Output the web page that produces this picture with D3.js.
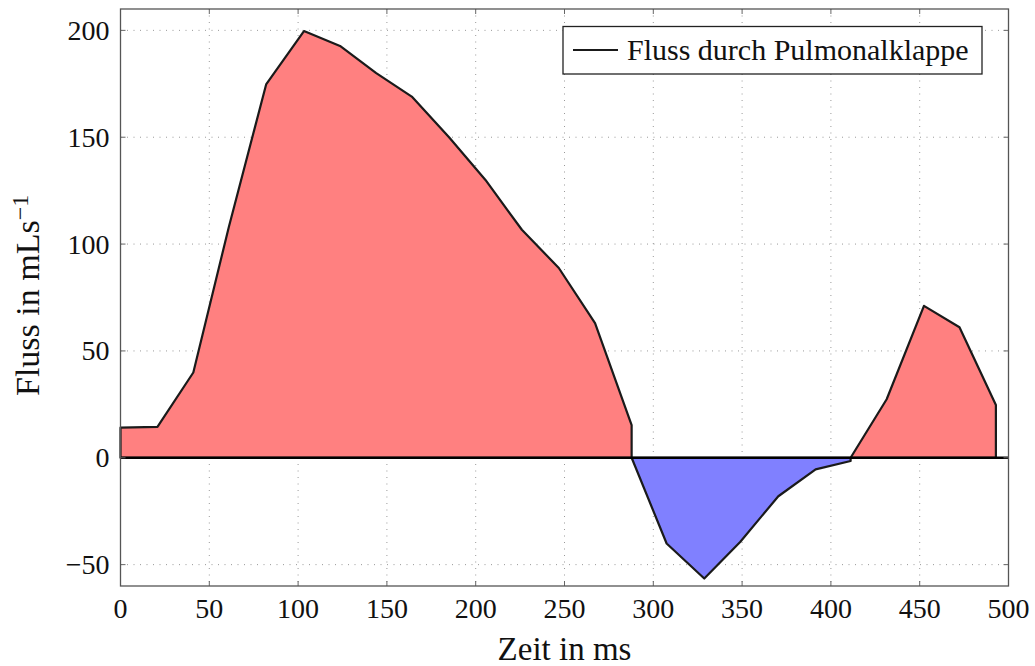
<!DOCTYPE html>
<html>
<head>
<meta charset="utf-8">
<script src="https://cdn.jsdelivr.net/npm/d3@7"></script>
<style>
  body { margin: 0; background: #fff; }
  text { font-family: "Liberation Serif", "Times New Roman", serif; fill: #111; }
</style>
</head>
<body>
<div id="root"></div>
<script>
// data
const timeMs = [0, 20.8, 41, 61, 82, 103.3, 123.6, 144, 164, 185, 205.5, 226, 246.8, 267.2, 287.8,
                307.5, 328.7, 348.9, 370.4, 391.4, 411.1, 431.4, 452.4, 472.4, 492.9];
const flow = [14.1, 14.5, 39.9, 108, 174.7, 199.7, 192.7, 180, 169, 150, 130, 106.7, 88.8, 63, 15.3,
              -40.1, -56.5, -39.4, -18, -5.4, -1.5, 27.4, 71.1, 61.1, 24.7];
const xTicks = [0, 50, 100, 150, 200, 250, 300, 350, 400, 450, 500];
const yTicks = [-50, 0, 50, 100, 150, 200];
const xLabel = "Zeit in ms";
const yLabel = "Fluss in mLs";
const legendLabel = "Fluss durch Pulmonalklappe";

const W = 1035, H = 666;
const margin = {left: 120.5, right: 1035 - 1008.5, top: 9, bottom: 666 - 586};
const innerW = W - margin.left - margin.right;
const innerH = H - margin.top - margin.bottom;

const svg = d3.select('#root').append('svg')
  .attr('width', W).attr('height', H);

const g = svg.append('g')
  .attr('transform', `translate(${margin.left},${margin.top})`);

const x = d3.scaleLinear().domain([0, 500]).range([0, innerW]);
const y = d3.scaleLinear().domain([-60, 210]).range([innerH, 0]);

// grid
g.append('g').selectAll('line').data(xTicks).join('line')
  .attr('x1', d => x(d)).attr('x2', d => x(d))
  .attr('y1', 0).attr('y2', innerH)
  .attr('stroke', '#999').attr('stroke-width', 1).attr('stroke-dasharray', '1,5.5');
g.append('g').selectAll('line').data(yTicks).join('line')
  .attr('x1', 0).attr('x2', innerW)
  .attr('y1', d => y(d)).attr('y2', d => y(d))
  .attr('stroke', '#999').attr('stroke-width', 1).attr('stroke-dasharray', '1,5.5');

// split the curve into runs of same sign, each run starts at the previous point set to 0
const pts = timeMs.map((t, i) => ({t, v: flow[i]}));
const runs = [];
pts.forEach((p, i) => {
  const pos = p.v >= 0;
  const last = runs[runs.length - 1];
  if (!last || last.pos !== pos) {
    const run = {pos, pts: []};
    if (i > 0) run.pts.push({t: pts[i - 1].t, v: 0});
    runs.push(run);
    run.pts.push(p);
  } else {
    last.pts.push(p);
  }
});

const area = d3.area()
  .x(d => x(d.t))
  .y0(y(0))
  .y1(d => y(d.v));

g.append('g').selectAll('path').data(runs).join('path')
  .attr('d', d => area(d.pts))
  .attr('fill', d => d.pos ? '#ff8080' : '#8080ff')
  .attr('stroke', '#1a1a1a')
  .attr('stroke-width', 2.2)
  .attr('stroke-linejoin', 'round');

// zero line
g.append('line')
  .attr('x1', 0).attr('x2', innerW)
  .attr('y1', y(0)).attr('y2', y(0))
  .attr('stroke', '#000').attr('stroke-width', 2.5);

// ticks inside the frame on all four sides
const tl = 5;
const tickG = g.append('g').attr('stroke', '#666').attr('stroke-width', 1);
xTicks.forEach(d => {
  tickG.append('line').attr('x1', x(d)).attr('x2', x(d)).attr('y1', innerH).attr('y2', innerH - tl);
  tickG.append('line').attr('x1', x(d)).attr('x2', x(d)).attr('y1', 0).attr('y2', tl);
});
yTicks.forEach(d => {
  tickG.append('line').attr('x1', 0).attr('x2', tl).attr('y1', y(d)).attr('y2', y(d));
  tickG.append('line').attr('x1', innerW).attr('x2', innerW - tl).attr('y1', y(d)).attr('y2', y(d));
});

// frame
g.append('rect')
  .attr('width', innerW).attr('height', innerH)
  .attr('fill', 'none').attr('stroke', '#555').attr('stroke-width', 1.3);

// tick labels
const fmt = d3.format('');
g.append('g').selectAll('text').data(xTicks).join('text')
  .attr('x', d => x(d)).attr('y', innerH + 32)
  .attr('text-anchor', 'middle')
  .style('font-size', '28px')
  .text(d => fmt(d));
g.append('g').selectAll('text').data(yTicks).join('text')
  .attr('x', -11).attr('y', d => y(d))
  .attr('dy', '0.34em')
  .attr('text-anchor', 'end')
  .style('font-size', '28px')
  .text(d => fmt(d));

// axis labels
svg.append('text')
  .attr('x', margin.left + innerW / 2).attr('y', 660)
  .attr('text-anchor', 'middle')
  .style('font-size', '33px')
  .text(xLabel);

const yl = svg.append('text')
  .attr('transform', `translate(39,${margin.top + y(76)}) rotate(-90)`)
  .attr('text-anchor', 'middle')
  .style('font-size', '34px');
yl.append('tspan').text(yLabel);
yl.append('tspan').attr('dy', '-0.45em').style('font-size', '24px').text('\u22121');

// legend
const lg = svg.append('g');
lg.append('rect')
  .attr('x', 563).attr('y', 26.5).attr('width', 419).attr('height', 47.5)
  .attr('fill', '#fff').attr('stroke', '#222').attr('stroke-width', 1.3);
lg.append('line')
  .attr('x1', 573).attr('x2', 618).attr('y1', 50).attr('y2', 50)
  .attr('stroke', '#1a1a1a').attr('stroke-width', 2);
lg.append('text')
  .attr('x', 627).attr('y', 60)
  .style('font-size', '30px')
  .text(legendLabel);
</script>
</body>
</html>
